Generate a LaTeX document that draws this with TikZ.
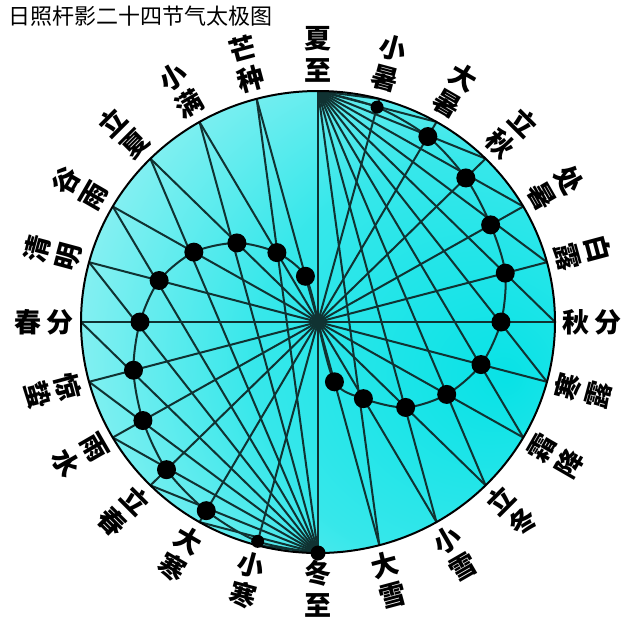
\documentclass[tikz,border=0pt]{standalone}
\usepackage{fontspec}
\newfontfamily\cjk{Noto Sans CJK SC}
\definecolor{skycyan}{RGB}{8,226,230}
\definecolor{palecyan}{RGB}{196,247,247}
\definecolor{rodline}{RGB}{16,50,50}
\pgfdeclareradialshading{taijiglow}{\pgfpoint{20bp}{-6bp}}{color(0bp)=(skycyan); color(22bp)=(skycyan!75!palecyan); color(50bp)=(palecyan); color(90bp)=(palecyan)}

\begin{document}
\begin{tikzpicture}[
  x=0.5pt, y=-0.5pt,
  ray/.style={draw=rodline, line width=1pt},
  sundot/.style={circle, fill=black, inner sep=0pt, minimum size=9.5pt},
  smalldot/.style={sundot, minimum size=6.5pt},
  term/.style={inner sep=0pt, font=\cjk\bfseries\fontsize{13.5pt}{13.5pt}\selectfont}
]
  \useasboundingbox (0,0) rectangle (640,617);

  % Title
  \node[anchor=west, inner sep=0pt, font=\cjk\fontsize{11pt}{11pt}\selectfont] (title) at (8,16) {日照杆影二十四节气太极图};

  \begin{scope}[shift={(318,322)}, x=118.5pt, y=115.5pt]
    % Points on the rim
    \coordinate (O) at (0,0);
    \foreach \k in {0,...,23}
      \coordinate (p\k) at ({90-15*\k}:1);

    \shade[shading=taijiglow] (O) circle (1);

    % Diameters and the two fans
    \foreach \k in {0,...,11} {
      \pgfmathtruncatemacro\j{\k+12}
      \draw[ray] (p\k) -- (p\j);
    }
    \foreach \k in {1,...,11}
      \draw[ray] (p0) -- (p\k);
    \foreach \k in {13,...,23}
      \draw[ray] (p12) -- (p\k);

    % Shadow points
    \foreach \k/\r/\s in {1/0.963/0.983, 2/0.927/0.943, 3/0.882/0.904, 4/0.841/0.853,
                          5/0.818/0.806, 6/0.772/0.751, 7/0.712/0.694, 8/0.627/0.605,
                          9/0.523/0.484, 10/0.383/0.347, 11/0.268/0.205} {
      \pgfmathtruncatemacro\m{\k+12}
      \coordinate (d\k) at ({90-15*\k}:\r);
      \coordinate (d\m) at ({-90-15*\k}:\s);
    }
    \draw[ray] plot[smooth] coordinates {(p0) (d1) (d2) (d3) (d4) (d5) (d6) (d7) (d8) (d9) (d10) (d11) (O)};
    \draw[ray] plot[smooth] coordinates {(p12) (d13) (d14) (d15) (d16) (d17) (d18) (d19) (d20) (d21) (d22) (d23) (O)};

    \draw[black, line width=1pt] (O) circle (1);

    \foreach \k in {2,...,11,14,15,...,23}
      \node[sundot] (dot\k) at (d\k) {};
    \node[smalldot] (dot1) at (d1) {};
    \node[smalldot] (dot13) at (d13) {};
    \node[sundot, minimum size=7.5pt] (dot12) at (p12) {};

    % Term names
    \foreach \k/\ca/\cb in {0/夏/至, 1/小/暑, 2/大/暑, 3/立/秋, 4/处/暑, 5/白/露,
                            6/秋/分, 7/寒/露, 8/霜/降, 9/立/冬, 10/小/雪, 11/大/雪,
                            12/冬/至, 13/小/寒, 14/大/寒, 15/立/春, 16/雨/水, 17/惊/蛰,
                            18/春/分, 19/清/明, 20/谷/雨, 21/立/夏, 22/小/满, 23/芒/种} {
      \pgfmathsetmacro\rot{(\k==6 || \k==18) ? 0 : ((\k>6 && \k<18) ? 180-15*\k : -15*\k)}
      \pgfmathsetmacro\ra{(\k<6 || \k>17) ? 1.225 : 1.09}
      \pgfmathsetmacro\rb{(\k<6 || \k>17) ? 1.09 : 1.225}
      \node[term, rotate=\rot] (a\k) at ({90-15*\k}:\ra) {\ca};
      \node[term, rotate=\rot] (b\k) at ({90-15*\k}:\rb) {\cb};
    }
  \end{scope}
\end{tikzpicture}
\end{document}
